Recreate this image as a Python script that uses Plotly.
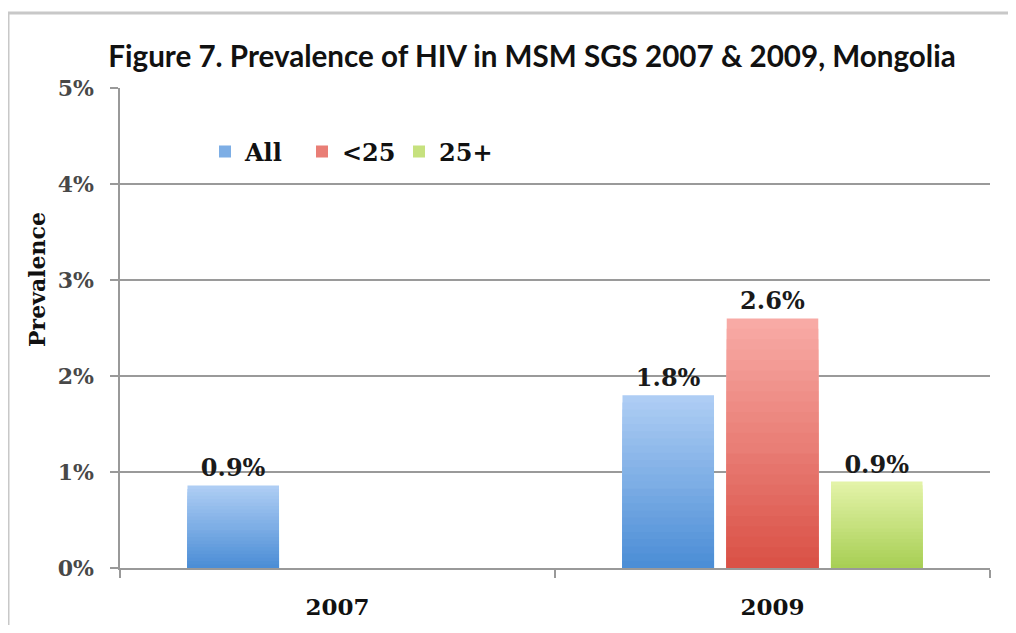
import plotly.graph_objects as go

# ---- data ----
years = ["2007", "2009"]
series_names = ["All", "<25", "25+"]
all_vals = [0.86, 1.8]
under25_vals = [None, 2.6]
over25_vals = [None, 0.9]
y_tick_vals = [0, 1, 2, 3, 4, 5]
y_tick_text = ["0%", "1%", "2%", "3%", "4%", "5%"]

title_text = "Figure 7. Prevalence of HIV in MSM SGS 2007 &amp; 2009, Mongolia"
y_title = "Prevalence"

# ---- styles ----
grad = {
    "All": ("#aecdf4", "#4c8ed6"),
    "<25": ("#f8aaa5", "#da5247"),
    "25+": ("#e3f3a8", "#a8cf55"),
}
serif = "DejaVu Serif"
N = 24
OFF = 8  # page body margin
W, H = 1016 - 2 * OFF, 633 - 2 * OFF
PL, PR, PT, PB = 120, 990, 88, 568  # plot area in page pixels


def hex2rgb(h):
    h = h.lstrip("#")
    return tuple(int(h[i:i + 2], 16) for i in (0, 2, 4))


def mix(c1, c2, t):
    a, b = hex2rgb(c1), hex2rgb(c2)
    return "rgb(%d,%d,%d)" % tuple(round(a[i] + (b[i] - a[i]) * t) for i in range(3))


fig = go.Figure()
for name, vals in zip(series_names, [all_vals, under25_vals, over25_vals]):
    top, bot = grad[name]
    for k in range(N):
        f = 1 - k / N
        col = mix(top, bot, k / (N - 1))
        yv = [v * f if v is not None else None for v in vals]
        kw = {}
        if k == 0:
            kw = dict(
                text=[("%.1f%%" % v) if v is not None else "" for v in vals],
                textposition="outside",
                textfont=dict(family=serif, size=24, color="#1a1a1a", weight="bold"),
                cliponaxis=False,
            )
        fig.add_bar(
            x=years, y=yv, name=name, offsetgroup=name,
            marker=dict(color=col if k != N // 2 else mix(top, bot, 0.5), line=dict(width=0)),
            showlegend=(k == N // 2), hoverinfo="skip", **kw,
        )

fig.update_layout(
    width=W, height=H,
    margin=dict(l=PL - OFF, r=OFF + W - PR, t=PT - OFF, b=OFF + H - PB),
    paper_bgcolor="white", plot_bgcolor="white",
    barmode="group", bargap=0.281, bargroupgap=0.122,
    title=dict(text=title_text, x=(532 - OFF) / W, xref="container", xanchor="center",
               y=1 - (57 - OFF) / H, yref="container", yanchor="middle",
               font=dict(family="Lato", size=29.6, color="#111111", weight="bold")),
    legend=dict(orientation="h", x=(205 - PL) / (PR - PL), y=1 - (152 - PT) / (PB - PT),
                xanchor="left", yanchor="middle",
                bgcolor="rgba(0,0,0,0)", entrywidth=52, entrywidthmode="pixels",
                font=dict(family=serif, size=24, color="#111111", weight="bold"),
                itemclick=False),
    showlegend=True,
)
fig.update_xaxes(type="category", tickson="boundaries", ticks="outside", ticklen=8,
                 tickcolor="#999999", tickwidth=1.5, showline=True, linecolor="#999999",
                 linewidth=1.5, showgrid=False, ticklabelstandoff=18, automargin=False,
                 tickfont=dict(family=serif, size=23, color="#111111", weight="bold"))
fig.update_yaxes(range=[0, 5], tickvals=y_tick_vals, ticktext=y_tick_text,
                 ticks="outside", ticklen=8, tickcolor="#999999", tickwidth=1.5,
                 showline=True, linecolor="#999999", linewidth=1.5,
                 showgrid=True, gridcolor="#9a9a9a", gridwidth=1.5, zeroline=False,
                 ticklabelstandoff=12, automargin=False,
                 tickfont=dict(family=serif, size=22, color="#484848", weight="bold"))

fig.add_annotation(text=y_title, textangle=-90, xref="paper", yref="paper",
                   x=(37 - PL) / (PR - PL), y=(PB - 280) / (PB - PT), showarrow=False,
                   xanchor="center", yanchor="middle",
                   font=dict(family=serif, size=22, color="#111111", weight="bold"))

# outer frame
fx = (8 - PL) / (PR - PL)
fy = 1 + (PT - 13) / (PB - PT)
fig.add_shape(type="line", xref="paper", yref="paper", x0=fx, x1=fx, y0=-0.3, y1=fy,
              line=dict(color="#c8c8c8", width=3))
fig.add_shape(type="line", xref="paper", yref="paper", x0=fx, x1=1.2, y0=fy, y1=fy,
              line=dict(color="#c8c8c8", width=3))

fig.write_html("out.html")
